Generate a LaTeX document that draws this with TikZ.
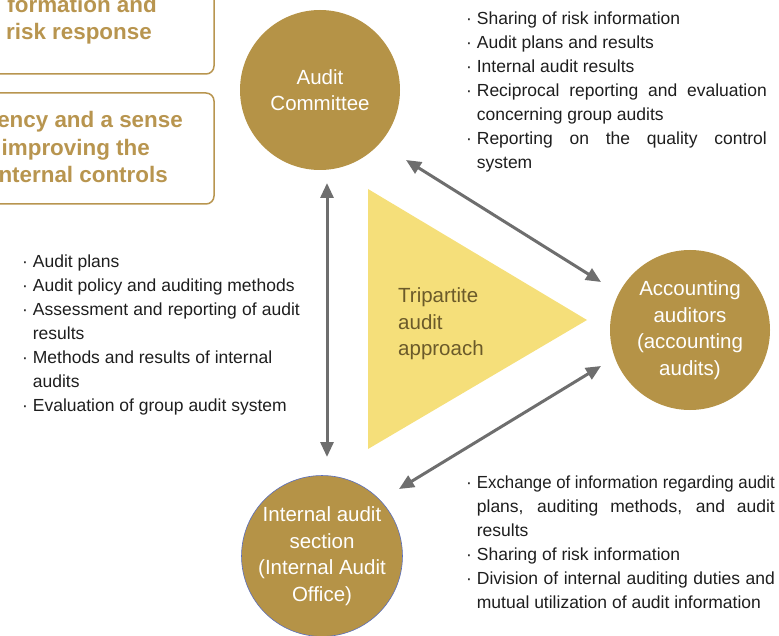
\documentclass[tikz,border=0pt]{standalone}
\usepackage{fontspec}
\usepackage{graphicx}
\setmainfont{Liberation Sans}
\usetikzlibrary{arrows.meta}
\definecolor{gold}{RGB}{181,147,71}
\definecolor{goldtext}{RGB}{184,149,79}
\definecolor{tri}{RGB}{245,223,122}
\definecolor{tritext}{RGB}{107,90,42}
\definecolor{arrgray}{RGB}{110,110,110}
\definecolor{listtext}{RGB}{30,30,30}
\definecolor{rim}{RGB}{90,110,190}
\tikzset{
  party/.style={circle, fill=gold, minimum size=160pt, inner sep=0pt, text=white,
    align=center, font=\fontsize{20.5}{26.5}\selectfont},
  arr/.style={draw=arrgray, line width=3pt, {Triangle[length=15pt,width=13pt]}-{Triangle[length=15pt,width=13pt]}},
  listtxt/.style={anchor=north west, inner sep=0pt, align=left, text=listtext,
    font=\fontsize{17.5}{24}\selectfont},
  boxline/.style={draw=goldtext, line width=1.5pt, rounded corners=8pt},
  boxtxt/.style={anchor=base east, inner sep=0pt, text=goldtext, font=\fontsize{22.4}{28}\selectfont\bfseries}
}
\newcommand{\bul}{\textperiodcentered\ }
\newcommand{\ind}{\phantom{\textperiodcentered\ }}
\newcommand{\jline}[2]{\makebox[#1][s]{#2}}
\newcommand{\sqline}[2]{\resizebox{#1}{\height}{#2}}
\begin{document}
\begin{tikzpicture}[x=1pt,y=-1pt]
\useasboundingbox (0,0) rectangle (779,636);
\clip (0,0) rectangle (779,636);

% left boxes
\draw[boxline] (-30,-40) rectangle (214,74);
\draw[boxline] (-30,93) rectangle (214,204);
\node[boxtxt] (b1) at (157,13) {formation and};
\node[boxtxt] (b2) at (152,40) {risk response};
\node[boxtxt] (b3) at (183,128) {ency and a sense};
\node[boxtxt] (b4) at (150,155.5) {improving the};
\node[boxtxt] (b5) at (168,183) {nternal controls};

% triangle
\fill[tri] (368,189) -- (587,320) -- (368,449) -- cycle;
\node[anchor=west, inner sep=0pt, align=left, text=tritext,
  font=\fontsize{20.5}{26.5}\selectfont] (tt) at (398,324) {Tripartite\\audit\\approach};

% circles
\node[party] (ac) at (320,90) {Audit\\Committee};
\node[party] (aa) at (690,330) {Accounting\\auditors\\(accounting\\audits)};
\node[party, draw=rim, line width=0.6pt] (ia) at (322,556) {Internal audit\\section\\(Internal Audit\\Office)};

% connector ends
\coordinate (v1) at (327,183);
\coordinate (v2) at (327,457);
\coordinate (u1) at (406,160);
\coordinate (u2) at (601,282);
\coordinate (l1) at (399,489);
\coordinate (l2) at (601,366);
\draw[arr] (v1) -- (v2);
\draw[arr] (u1) -- (u2);
\draw[arr] (l1) -- (l2);

% lists
\node[listtxt] (r1) at (466,12) {%
\bul Sharing of risk information\\
\bul Audit plans and results\\
\bul Internal audit results\\
\bul \jline{290pt}{Reciprocal reporting and evaluation}\\
\ind concerning group audits\\
\bul \jline{290pt}{Reporting on the quality control}\\
\ind system};

\node[listtxt] (l) at (22,255) {%
\bul Audit plans\\
\bul Audit policy and auditing methods\\
\bul \jline{267pt}{Assessment and reporting of audit}\\
\ind results\\
\bul Methods and results of internal\\
\ind audits\\
\bul Evaluation of group audit system};

\node[listtxt] (r2) at (466,476) {%
\bul \sqline{298pt}{Exchange of information regarding audit}\\
\ind\jline{298pt}{plans, auditing methods, and audit}\\
\ind results\\
\bul Sharing of risk information\\
\bul \jline{298pt}{Division of internal auditing duties and}\\
\ind mutual utilization of audit information};
\end{tikzpicture}
\end{document}
